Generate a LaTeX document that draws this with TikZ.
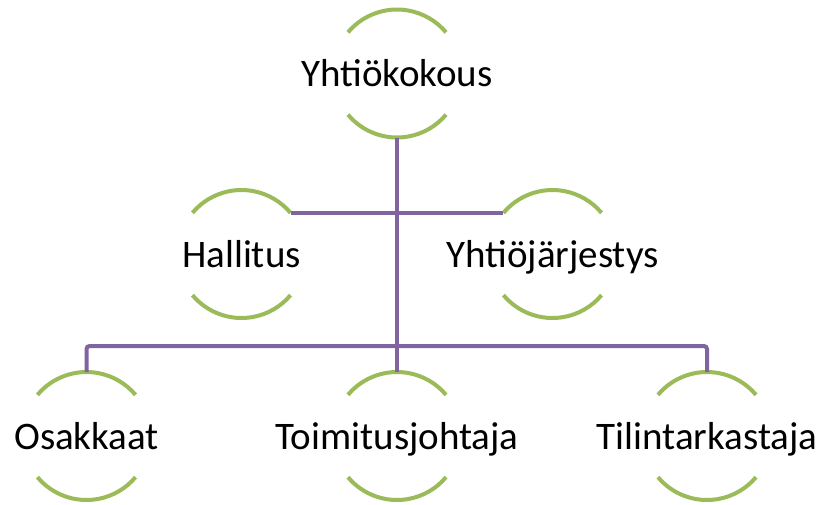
\documentclass[tikz,border=0pt]{standalone}
\usepackage{fontspec}
\setmainfont{Carlito}
\definecolor{arcgreen}{HTML}{9BBB59}
\definecolor{linepurple}{HTML}{8064A2}
\begin{document}
\begin{tikzpicture}[x=1pt,y=-1pt,
  unit/.style={circle,draw=none,minimum size=128pt,inner sep=0pt,outer sep=0pt},
  caption/.style={inner sep=0pt,outer sep=0pt,
    font=\fontsize{39}{39}\selectfont,text height=26pt,text depth=0pt},
  ring/.style={draw=arcgreen,line width=4pt},
  conn/.style={draw=linepurple,line width=4pt}]
\useasboundingbox (0,0) rectangle (821,504);
\node[unit] (yk) at (397,73.5) {};
\node[unit] (hal) at (241.5,254) {};
\node[unit] (yj) at (552.5,254) {};
\node[unit] (osa) at (86.5,436) {};
\node[unit] (toi) at (397,436) {};
\node[unit] (til) at (707,436) {};
\node[caption] (ykt) at (yk) {Yhtiökokous};
\node[caption] (halt) at (hal) {Hallitus};
\node[caption] (yjt) at (yj) {Yhtiöjärjestys};
\node[caption] (osat) at (osa) {Osakkaat};
\node[caption] (toit) at (toi) {Toimitusjohtaja};
\node[caption] (tilt) at (til) {Tilintarkastaja};
\foreach \n in {yk,hal,yj,osa,toi,til}{
  \draw[ring] (\n.140) arc[start angle=140,end angle=40,radius=64pt];
  \draw[ring] (\n.-140) arc[start angle=-140,end angle=-40,radius=64pt];
}
\coordinate (bar) at (397,346);
\draw[conn] (yk.south) -- (toi.north);
\draw[conn] (hal.40) -- (yj.140);
\draw[conn,rounded corners=3pt] (osa.north) |- (bar) -| (til.north);
\end{tikzpicture}
\end{document}
